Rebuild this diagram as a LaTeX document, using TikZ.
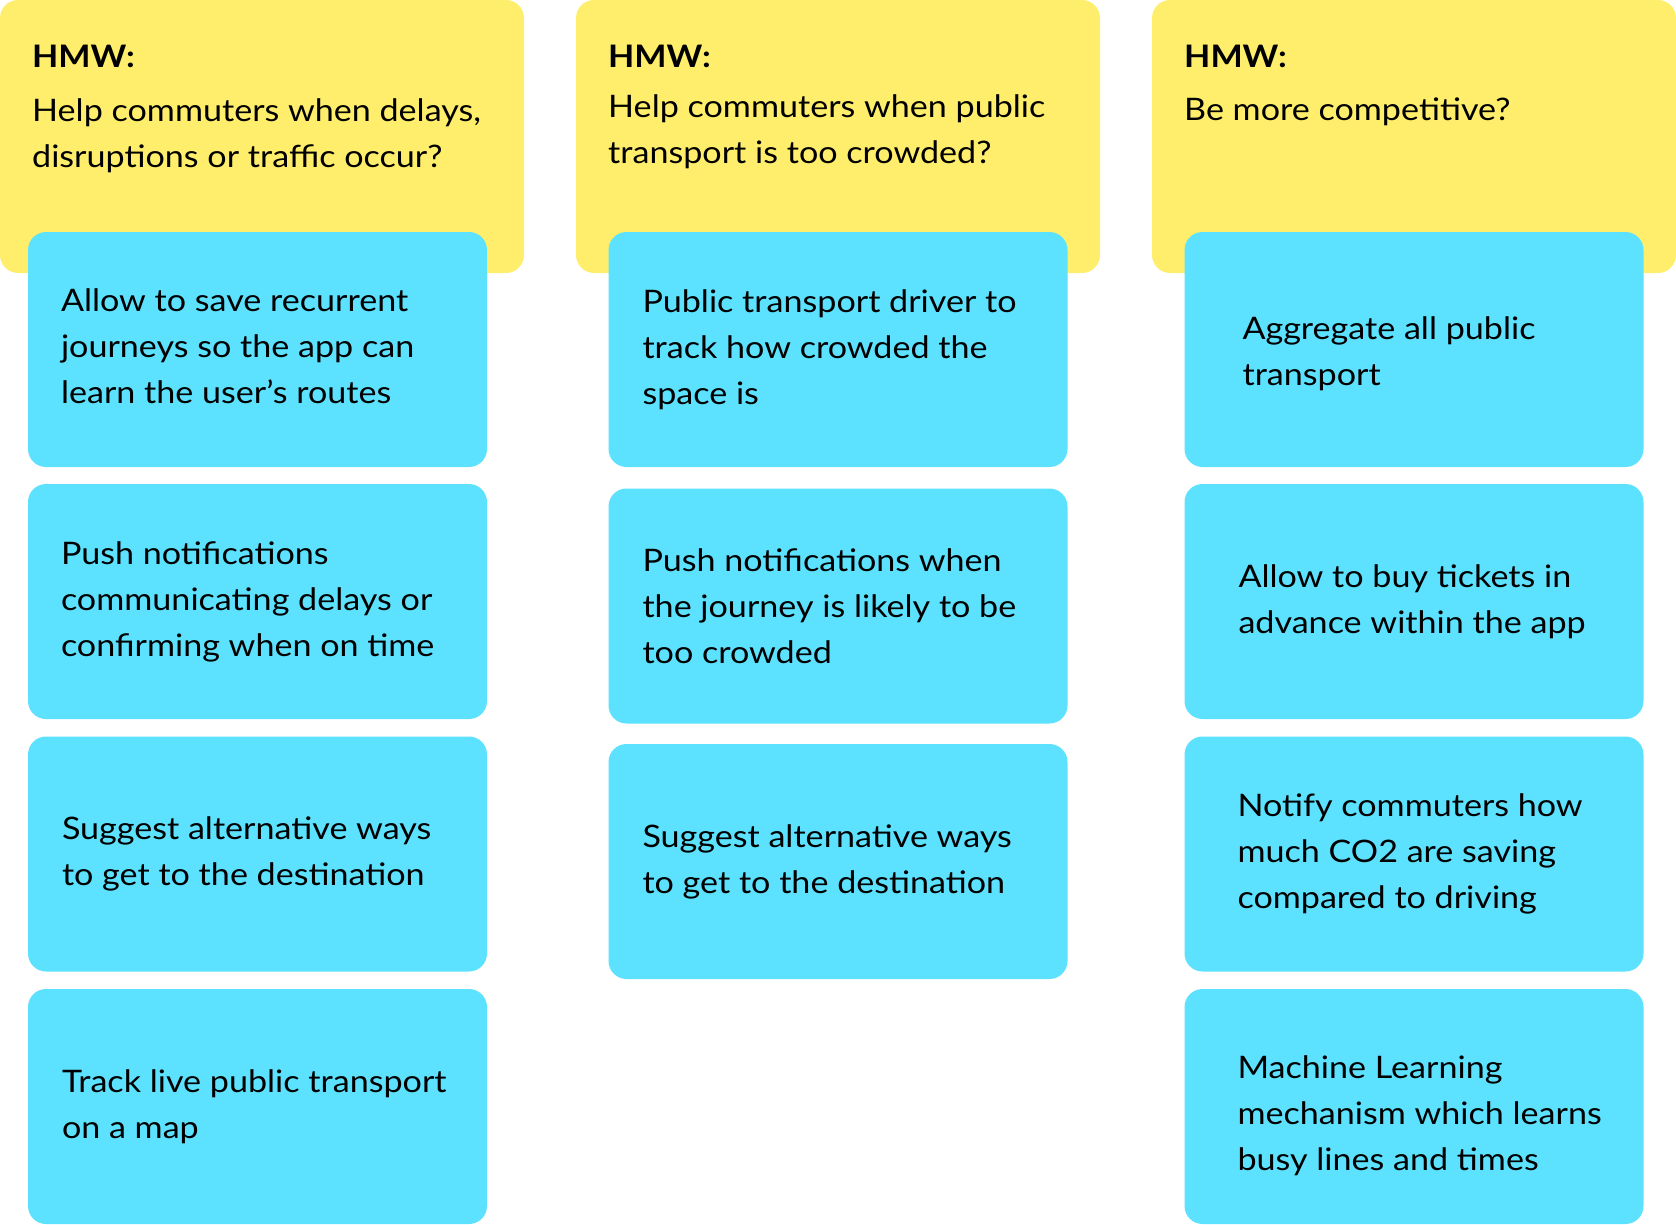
\documentclass[tikz,border=0pt]{standalone}
\usepackage{fontspec}
\setmainfont[FakeStretch=1.1]{Lato}
\definecolor{hmwyellow}{HTML}{FFEE6B}
\definecolor{ideablue}{HTML}{5CE2FF}

\begin{document}
\begin{tikzpicture}[x = 1pt, y = -1pt,
		hmw/.style = {fill=hmwyellow, rounded corners=18pt, minimum width=524pt, minimum height=273pt, inner sep=0pt},
		idea/.style = {fill=ideablue, rounded corners=18pt, minimum width=459pt, minimum height=235pt, inner sep=0pt},
		txt/.style = {align=left, inner sep=0pt, font=\fontsize{31}{46}\selectfont},
		head/.style = {inner sep=0pt, font=\bfseries\fontsize{31}{46}\selectfont},]
		
		\useasboundingbox (0,0) rectangle (1676,1224);
		
		% questions
		\node[hmw] (HA) at (262,136.5) {};
		\node[hmw] (HB) at (838,136.5) {};
		\node[hmw] (HC) at (1414,136.5) {};
		
		\node[head, anchor=north west] (HAh) at (32,45) {HMW:};
		\node[head, anchor=north west] (HBh) at (608,45) {HMW:};
		\node[head, anchor=north west] (HCh) at (1184,45) {HMW:};
		
		\node[txt, anchor=north west] (HAq) at (32,98) {Help commuters when delays,\\disruptions or traffic occur?};
		\node[txt, anchor=north west] (HBq) at (608,94) {Help commuters when public\\transport is too crowded?};
		\node[txt, anchor=north west] (HCq) at (1184,98) {Be more competitive?};
		
		% ideas
		\node[idea] (A1) at (257.5,349.5) {};
		\node[idea] (A2) at (257.5,601.5) {};
		\node[idea] (A3) at (257.5,854) {};
		\node[idea] (A4) at (257.5,1106.5) {};
		\node[idea] (B1) at (838,349.5) {};
		\node[idea] (B2) at (838,606) {};
		\node[idea] (B3) at (838,861.5) {};
		\node[idea] (C1) at (1414,349.5) {};
		\node[idea] (C2) at (1414,601.5) {};
		\node[idea] (C3) at (1414,854) {};
		\node[idea] (C4) at (1414,1106.5) {};
		
		\node[txt, anchor=west] (A1t) at ([xshift=33pt,yshift=3pt]A1.west) {Allow to save recurrent\\journeys so the app can\\learn the user’s routes};
		\node[txt, anchor=west] (A2t) at ([xshift=33pt]A2.west) {Push notifications\\communicating delays or\\confirming when on time};
		\node[txt, anchor=west] (A3t) at ([xshift=34pt]A3.west) {Suggest alternative ways\\to get to the destination};
		\node[txt, anchor=west] (A4t) at ([xshift=34pt]A4.west) {Track live public transport\\on a map};
		\node[txt, anchor=west] (B1t) at ([xshift=34pt]B1.west) {Public transport driver to\\track how crowded the\\space is};
		\node[txt, anchor=west] (B2t) at ([xshift=34pt]B2.west) {Push notifications when\\the journey is likely to be\\too crowded};
		\node[txt, anchor=west] (B3t) at ([xshift=34pt]B3.west) {Suggest alternative ways\\to get to the destination};
		\node[txt, anchor=west] (C1t) at ([xshift=58pt,yshift=-4pt]C1.west) {Aggregate all public\\transport};
		\node[txt, anchor=west] (C2t) at ([xshift=54pt]C2.west) {Allow to buy tickets in\\advance within the app};
		\node[txt, anchor=west] (C3t) at ([xshift=53pt]C3.west) {Notify commuters how\\much CO2 are saving\\compared to driving};
		\node[txt, anchor=west] (C4t) at ([xshift=53pt,yshift=-9pt]C4.west) {Machine Learning\\mechanism which learns\\busy lines and times};
		
	\end{tikzpicture}
\end{document}
